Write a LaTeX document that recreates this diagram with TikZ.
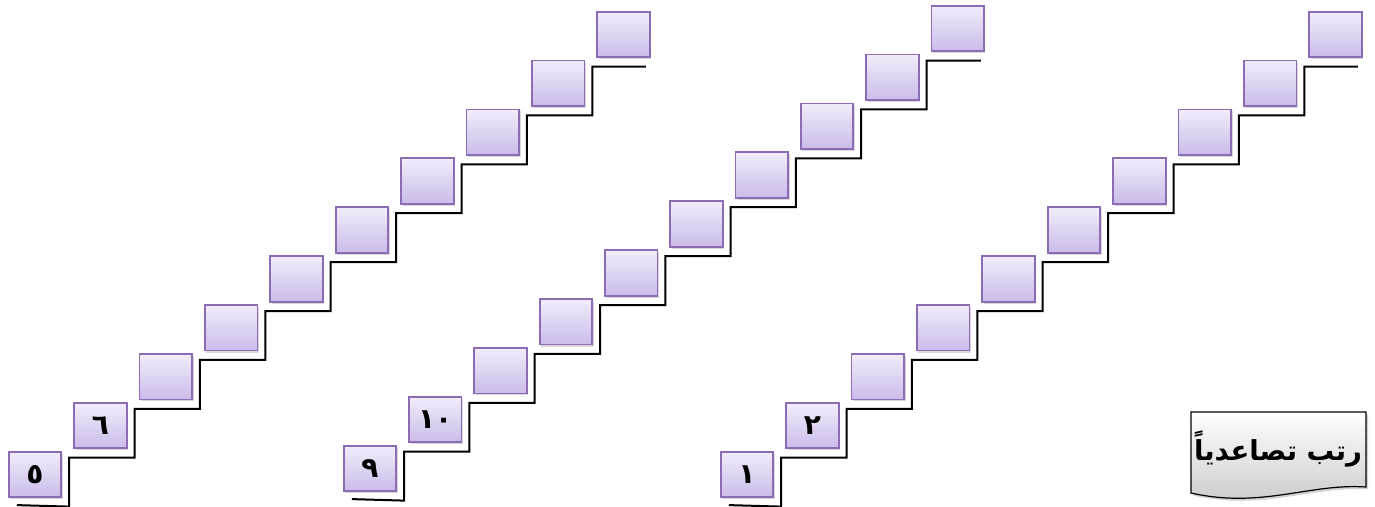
\documentclass[tikz,border=0pt]{standalone}
\usepackage{fontspec}
\TeXXeTstate=1
\newfontfamily\arabicfont[Script=Arabic]{DejaVu Sans Bold}
\usetikzlibrary{shadows,calc}
\definecolor{boxtop}{HTML}{F1EDFA}
\definecolor{boxbot}{HTML}{CBBBEA}
\definecolor{boxedge}{HTML}{8C6CB4}
\definecolor{lbltop}{HTML}{FFFFFF}
\definecolor{lblbot}{HTML}{C8C8C8}
\tikzset{
  stepbox/.style={draw=boxedge, line width=1.8pt, top color=boxtop, bottom color=boxbot,
    minimum width=52.5pt, minimum height=45.5pt, inner sep=0pt, anchor=north west,
    drop shadow={opacity=0.3, shadow xshift=1.5pt, shadow yshift=-2pt},
    font=\arabicfont\fontsize{28}{28}\selectfont},
  stair/.style={line width=2pt, black, line join=miter},
  doclabel/.style={draw=black, line width=1.2pt, top color=lbltop, bottom color=lblbot,
    drop shadow={opacity=0.35, shadow xshift=2pt, shadow yshift=-2.5pt}},
  lbltext/.style={font=\arabicfont\fontsize{27.5}{27.5}\selectfont, inner sep=0pt}
}
\begin{document}
\begin{tikzpicture}[x=1pt,y=-1pt]
\useasboundingbox (0,0) rectangle (1375,506);
\fill[white] (0,0) rectangle (1375,506);
\foreach \s/\xo/\yo/\dx/\dy/\ta/\tb in {a/7.8/450.8/65.4/48.9/٥/٦, b/342.8/444.8/65.3/48.9/٩/١٠, c/719.8/450.8/65.4/48.9/١/٢}{
  \foreach \k in {0,...,9}{
    \node[stepbox] (\s\k) at ({\xo+\k*\dx},{\yo-\k*\dy}) {\ifcase\k\relax \ta\or \tb\else\fi};
    \coordinate (\s p\k) at ($(\s\k.south east)+(7,8.5)$);
  }
  \draw[stair] ($(\s0.south west)+(9,7)$) -- (\s p0)
    \foreach \k/\n in {0/1,1/2,2/3,3/4,4/5,5/6,6/7,7/8,8/9}{ -- (\s p\k |- \s p\n) -- (\s p\n) }
    ;
}
% shorten top step end
\foreach \s in {a,b,c}{
  \draw[white, line width=3pt] ($(\s9.south west)+(50,8.5)$) -- ($(\s p9)+(1.5,0)$);
}
\path[doclabel] (1191,412) -- (1366,412) -- (1366,487)
  .. controls (1310,483) and (1262,509) .. (1191,493) -- cycle;
\node[lbltext] (lbl) at (1278,449) {\beginR رتب تصاعدياً\endR};
\end{tikzpicture}
\end{document}
